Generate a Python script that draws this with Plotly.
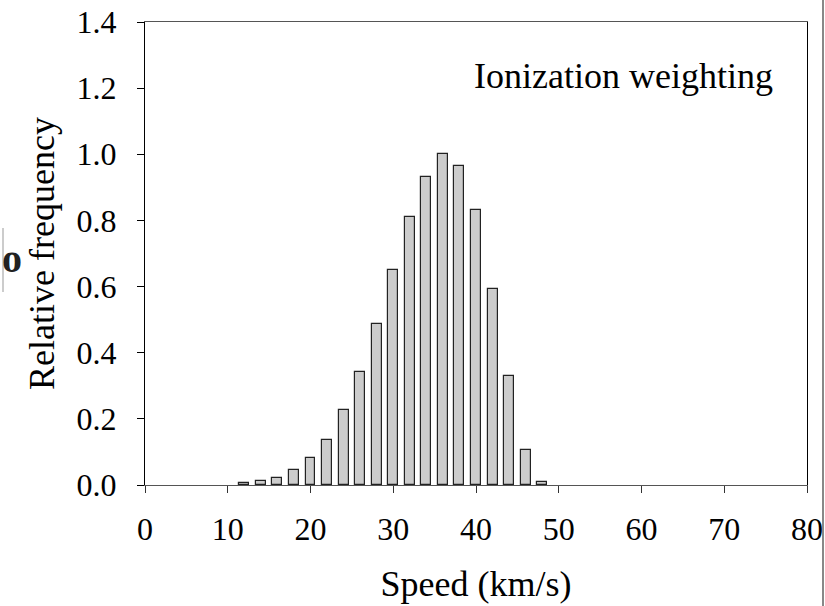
import plotly.graph_objects as go

speed = [12, 14, 16, 18, 20, 22, 24, 26, 28, 30, 32, 34, 36, 38, 40, 42, 44, 46, 48]
rel_freq = [0.005, 0.012, 0.021, 0.045, 0.081, 0.136, 0.227, 0.342, 0.487, 0.650,
            0.809, 0.932, 1.000, 0.966, 0.832, 0.594, 0.330, 0.106, 0.010]
x_ticks = [0, 10, 20, 30, 40, 50, 60, 70, 80]
y_ticks = [0.0, 0.2, 0.4, 0.6, 0.8, 1.0, 1.2, 1.4]

FONT = "Liberation Serif"

fig = go.Figure()
fig.add_trace(go.Bar(
    x=speed, y=rel_freq, width=1.2,
    marker=dict(color="#cccccc", line=dict(color="#222222", width=1.2)),
    showlegend=False,
))

fig.update_layout(
    width=825, height=606,
    margin=dict(l=145, r=18, t=22, b=121, autoexpand=False),
    paper_bgcolor="white", plot_bgcolor="white",
    font=dict(family=FONT, color="black"),
    bargap=0,
)
fig.update_xaxes(
    range=[0, 80], tickvals=x_ticks, ticktext=[str(v) for v in x_ticks],
    ticks="outside", ticklen=7, tickwidth=1, tickcolor="#333333",
    showline=True, linecolor="#555555", linewidth=1, mirror=True,
    showgrid=False, zeroline=False, automargin=False,
    tickfont=dict(family=FONT, size=32),
    ticklabelstandoff=9,
    title=dict(text="Speed (km/s)", font=dict(family=FONT, size=36), standoff=24),
)
fig.update_yaxes(
    range=[0, 1.4], tickvals=y_ticks, ticktext=[f"{v:.1f}" for v in y_ticks],
    ticks="outside", ticklen=7, tickwidth=1, tickcolor="black",
    showline=True, linecolor="black", linewidth=1, mirror=True,
    showgrid=False, zeroline=False, automargin=False,
    tickfont=dict(family=FONT, size=32),
    ticklabelstandoff=14,
    title=dict(text="Relative frequency", font=dict(family=FONT, size=36), standoff=10),
)

pw, ph = 825 - 145 - 18, 606 - 22 - 121

def px(x):
    return (x - 145) / pw

def py(y):
    return (485 - y) / ph

fig.add_annotation(
    x=px(775), y=py(76), xref="paper", yref="paper", showarrow=False,
    text="Ionization weighting", font=dict(family=FONT, size=36, color="black"),
    xanchor="right", yanchor="middle",
)

# stray artifacts at image edges
fig.add_shape(type="line", xref="paper", yref="paper",
              x0=px(823), x1=px(823), y0=py(0), y1=py(606),
              line=dict(color="#888888", width=2))
fig.add_shape(type="line", xref="paper", yref="paper",
              x0=px(3), x1=px(3), y0=py(228), y1=py(292),
              line=dict(color="#999999", width=1))
fig.add_annotation(x=px(12), y=py(258), xref="paper", yref="paper",
                   showarrow=False, text="<b>o</b>", font=dict(family=FONT, size=40, color="#222222"),
                   xanchor="center", yanchor="middle")

fig.write_html("out.html")
